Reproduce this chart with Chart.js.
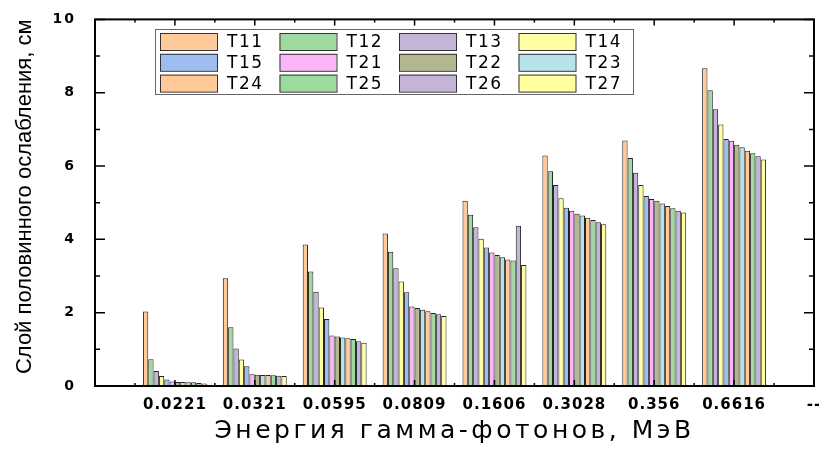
<!DOCTYPE html>
<html>
<head>
<meta charset="utf-8">
<script src="https://cdn.jsdelivr.net/npm/chart.js@4"></script>
<style>
  html, body { margin: 0; padding: 0; background: #fff; }
</style>
</head>
<body>
<canvas id="chart" width="819" height="449"></canvas>
<script>
//Energies on the X axis (the first slot is empty, the last one is "--")
const energies = ["0.0221", "0.0321", "0.0595", "0.0809", "0.1606", "0.3028", "0.356", "0.6616"];
const xLabels = ["", ...energies, "--"];
const seriesNames = ["T11", "T12", "T13", "T14", "T15", "T21", "T22", "T23", "T24", "T25", "T26", "T27"];

//Half value layer, cm (one array per sample)
const t11 = [2.03, 2.94, 3.86, 4.16, 5.05, 6.29, 6.70, 8.67];
const t12 = [0.73, 1.60, 3.12, 3.66, 4.67, 5.86, 6.22, 8.07];
const t13 = [0.41, 1.02, 2.57, 3.21, 4.33, 5.48, 5.82, 7.55];
const t14 = [0.27, 0.72, 2.14, 2.85, 4.02, 5.12, 5.48, 7.13];
const t15 = [0.18, 0.54, 1.83, 2.56, 3.78, 4.86, 5.18, 6.74];
const t21 = [0.12, 0.32, 1.38, 2.17, 3.64, 4.78, 5.10, 6.69];
const t22 = [0.11, 0.31, 1.35, 2.13, 3.57, 4.70, 5.05, 6.58];
const t23 = [0.11, 0.30, 1.32, 2.08, 3.51, 4.65, 4.98, 6.51];
const t24 = [0.10, 0.30, 1.30, 2.04, 3.45, 4.59, 4.91, 6.42];
const t25 = [0.10, 0.29, 1.28, 1.99, 3.42, 4.53, 4.85, 6.35];
const t26 = [0.08, 0.28, 1.22, 1.96, 4.37, 4.47, 4.78, 6.27];
const t27 = [0.07, 0.27, 1.18, 1.91, 3.30, 4.41, 4.73, 6.18];
const yTicks = [0, 2, 4, 6, 8, 10];

const values = [t11, t12, t13, t14, t15, t21, t22, t23, t24, t25, t26, t27];
const colors = [
  "#FFC99A", "#9ED99E", "#C3B4D8", "#FFFFA2",
  "#9DBCF0", "#FCB6F8", "#B2B78E", "#B5E3E9",
  "#FFC99A", "#9ED99E", "#C3B4D8", "#FFFFA2",
];

//A bit of letter spacing, the original texts are wide
function spaced(obj, method, px) {
  const original = obj[method];
  obj[method] = function (...args) {
    this.ctx.letterSpacing = px;
    original.apply(this, args);
    this.ctx.letterSpacing = "0px";
  };
}
const wideText = {
  id: "wideText",
  afterUpdate(chart) {
    if (chart.$wide) return;
    chart.$wide = true;
    spaced(chart.scales.x, "drawLabels", "1px");
    spaced(chart.scales.x, "drawTitle", "3.5px");
    spaced(chart.scales.y, "drawLabels", "2px");
  }
};

//Frame with inward ticks on all four sides
const frame = {
  id: "frame",
  afterDatasetsDraw(chart) {
    const { ctx, chartArea: a, scales: { x, y } } = chart;
    ctx.save();
    ctx.strokeStyle = "#000";
    ctx.lineWidth = 1.5;
    ctx.beginPath();
    for (let v = y.min; v <= y.max; v++) {
      const py = y.getPixelForValue(v);
      const len = v % 2 === 0 ? 10 : 5;
      ctx.moveTo(a.left, py); ctx.lineTo(a.left + len, py);
      ctx.moveTo(a.right, py); ctx.lineTo(a.right - len, py);
    }
    for (let i = 1; i < (xLabels.length - 1) * 2; i++) {
      const px = x.getPixelForValue(i / 2);
      const len = i % 2 === 0 ? 6 : 3;
      ctx.moveTo(px, a.bottom); ctx.lineTo(px, a.bottom - len);
      ctx.moveTo(px, a.top); ctx.lineTo(px, a.top + len);
    }
    ctx.stroke();
    ctx.lineWidth = 2;
    ctx.strokeRect(a.left, a.top, a.right - a.left, a.bottom - a.top);
    ctx.restore();
  }
};

//Legend box inside the plot: 4 columns x 3 rows
const boxLegend = {
  id: "boxLegend",
  afterDraw(chart) {
    const ctx = chart.ctx;
    const left = 155, top = 29, colStep = 119.5, rowStep = 20.8;
    ctx.save();
    ctx.fillStyle = "#fff";
    ctx.fillRect(left, top, 478, 65);
    ctx.strokeStyle = "#666";
    ctx.lineWidth = 1;
    ctx.strokeRect(left + 0.5, top + 0.5, 478, 65);
    ctx.font = "17px 'DejaVu Sans'";
    ctx.textBaseline = "middle";
    ctx.letterSpacing = "1.5px";
    chart.data.datasets.forEach((ds, i) => {
      const sx = left + 5 + (i % 4) * colStep;
      const sy = top + 4 + Math.floor(i / 4) * rowStep;
      ctx.fillStyle = ds.backgroundColor;
      ctx.fillRect(sx, sy, 57, 17);
      ctx.strokeStyle = "#333";
      ctx.strokeRect(sx + 0.5, sy + 0.5, 57, 17);
      ctx.fillStyle = "#000";
      ctx.fillText(ds.label, sx + 67, sy + 9.5);
    });
    ctx.restore();
  }
};

const ctx = document.getElementById("chart").getContext("2d");
const chart = new Chart(ctx, {
  type: "bar",
  data: {
    labels: xLabels,
    datasets: seriesNames.map((name, i) => ({
      label: name,
      data: [null, ...values[i], null],
      backgroundColor: colors[i],
      borderColor: "#222",
      borderWidth: 1,
      barPercentage: 1,
      categoryPercentage: 0.8,
    })),
  },
  options: {
    responsive: false,
    animation: false,
    layout: { padding: { top: 17, right: 5, bottom: 0, left: 0 } },
    plugins: {
      legend: { display: false },
      tooltip: { enabled: false },
    },
    scales: {
      x: {
        type: "category",
        offset: false,
        grid: { display: false },
        border: { display: false },
        ticks: {
          autoSkip: false,
          maxRotation: 0,
          padding: 2,
          color: "#000",
          font: { family: "DejaVu Sans", weight: "bold", size: 15 },
        },
        title: {
          display: true,
          text: "Энергия гамма-фотонов, МэВ",
          color: "#000",
          font: { family: "DejaVu Sans", size: 25 },
          padding: { top: 0, bottom: 3 },
        },
        afterFit(s) { s.height = 63; s.paddingLeft = 0; s.paddingRight = 0; },
      },
      y: {
        min: 0,
        max: 10,
        afterBuildTicks(s) { s.ticks = yTicks.map(v => ({ value: v })); },
        grid: { display: false },
        border: { display: false },
        ticks: {
          padding: 11,
          color: "#000",
          font: { family: "DejaVu Sans", weight: "bold", size: 14 },
        },
        title: {
          display: true,
          align: "end",
          text: "Слой половинного ослабления, см",
          color: "#000",
          font: { family: "Liberation Sans", size: 22 },
          padding: { top: 12, bottom: 0 },
        },
        afterFit(s) { s.width = 95; },
      },
    },
  },
  plugins: [wideText, frame, boxLegend],
});
</script>
</body>
</html>
